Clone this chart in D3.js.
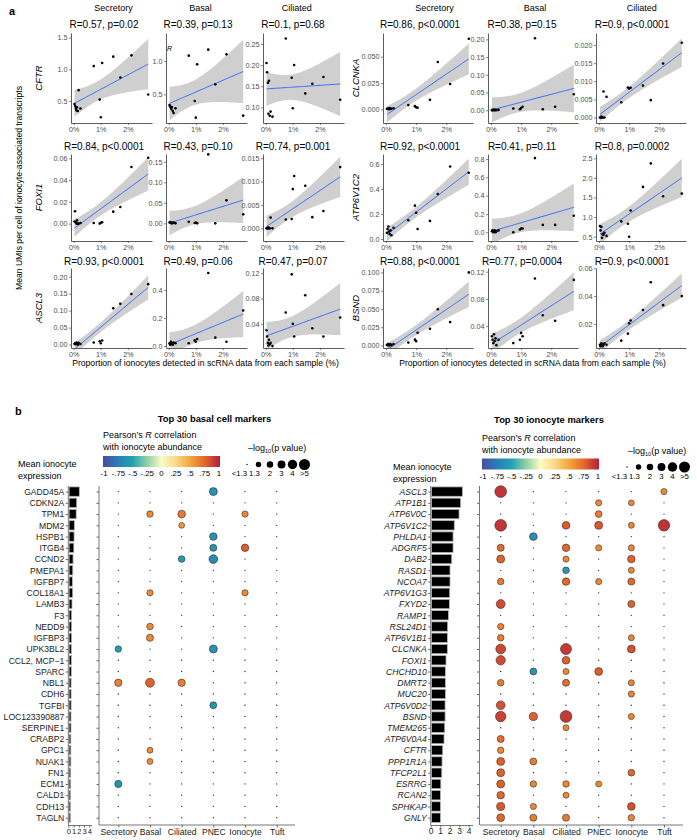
<!DOCTYPE html>
<html>
<head>
<meta charset="utf-8">
<script src="https://cdn.jsdelivr.net/npm/d3@7"></script>
<style>
  body { margin: 0; background: #fff; }
  svg { font-family: "Liberation Sans", Arial, Helvetica, sans-serif; }
</style>
</head>
<body>
<svg id="chart" width="697" height="840"></svg>
<script>
// ---------- panel a data ----------
// proportion of ionocytes per sample (%), same 16 samples in every panel
const samplePct = [0.03, 0.05, 0.08, 0.1, 0.12, 0.15, 0.18, 0.25, 0.74, 0.96, 1.0, 1.05, 1.46, 1.72, 2.13, 2.75];
const cellTypesA = ["Secretory", "Basal", "Ciliated"];
const genesLeft = ["CFTR", "FOXI1", "ASCL3"];
const genesRight = ["CLCNKA", "ATP6V1C2", "BSND"];

// mean UMIs per cell, [secretory, basal, ciliated]
const umiCFTR = [
  [0.45, 0.42, 0.38, 0.35, 0.40, 0.34, 0.67, 0.38, 1.05, 0.52, 0.24, 1.10, 1.20, 0.87, 1.22, 0.60],
  [0.34, 0.32, 0.30, 0.28, 0.31, 0.25, 0.22, 0.29, 1.08, 0.40, 0.15, 0.95, 1.17, 0.65, 1.10, 0.18],
  [0.205, 0.183, 0.158, 0.085, 0.163, 0.080, 0.090, 0.078, 0.263, 0.170, 0.098, 0.200, 0.133, 0.156, 0.172, 0.118]
];
const umiCLCNKA = [
  [0.0005, 0.0003, 0.0008, 0.0, 0.0012, 0.0004, 0.0006, 0.001, 0.004, 0.003, 0.002, 0.0015, 0.009, 0.045, 0.024, 0.067],
  [0.0, 0.001, 0.0, 0.002, 0.0, 0.001, 0.0, 0.001, 0.005, 0.003, 0.006, 0.01, 0.203, 0.003, 0.01, 0.045],
  [0.0, 0.0, 0.0003, 0.0, 0.0, 0.0072, 0.0, 0.0057, 0.0042, 0.0083, 0.0080, 0.0082, 0.0088, 0.0048, 0.0149, 0.0206]
];
const umiFOXI1 = [
  [0.002, 0.0113, 0.001, 0.0, 0.003, 0.0, 0.0, 0.0005, 0.0005, 0.0, 0.0008, 0.0012, 0.011, 0.0153, 0.052, 0.0605],
  [0.002, 0.003, 0.001, 0.002, 0.0, 0.001, 0.002, 0.0, 0.004, 0.001, 0.002, 0.0, 0.168, 0.0, 0.056, 0.022],
  [0.0, 0.0, 0.0002, 0.0, 0.0001, 0.0, 0.0023, 0.0, 0.0019, 0.002, 0.0084, 0.0112, 0.0091, 0.0024, 0.0037, 0.0131]
];
const umiATP6V1C2 = [
  [0.05, 0.08, 0.10, 0.06, 0.04, 0.07, 0.03, 0.09, 0.15, 0.267, 0.21, 0.08, 0.145, 0.36, 0.58, 0.53],
  [0.01, 0.02, 0.0, 0.01, 0.02, 0.0, 0.01, 0.02, 0.0, 0.03, 0.04, 0.04, 0.81, 0.08, 0.08, 0.18],
  [0.77, 0.66, 0.75, 0.47, 0.56, 0.55, 0.60, 0.52, 0.89, 0.83, 0.50, 1.17, 1.77, 2.37, 1.53, 1.60]
];
const umiASCL3 = [
  [0.002, 0.004, 0.001, 0.006, 0.003, 0.0, 0.005, 0.002, 0.006, 0.010, 0.004, 0.012, 0.107, 0.120, 0.149, 0.178],
  [0.02, 0.01, 0.03, 0.015, 0.02, 0.01, 0.025, 0.02, 0.02, 0.04, 0.03, 0.05, 0.52, 0.06, 0.03, 0.253],
  [0.03, 0.02, 0.01, 0.006, 0.015, 0.008, 0.01, 0.005, 0.058, 0.118, 0.04, 0.02, 0.085, 0.033, 0.02, 0.05]
];
const umiBSND = [
  [0.001, 0.0005, 0.002, 0.0, 0.001, 0.0015, 0.0005, 0.002, 0.004, 0.008, 0.006, 0.0175, 0.023, 0.0496, 0.032, 0.1],
  [0.025, 0.02, 0.015, 0.028, 0.018, 0.022, 0.012, 0.02, 0.015, 0.02, 0.03, 0.025, 0.11, 0.056, 0.048, 0.108],
  [0.005, 0.004, 0.006, 0.005, 0.004, 0.005, 0.006, 0.005, 0.008, 0.013, 0.0205, 0.0225, 0.03, 0.05, 0.0335, 0.04]
];

const statsCFTR = ["R=0.57, p=0.02", "R=0.39, p=0.13", "R=0.1, p=0.68"];
const statsCLCNKA = ["R=0.86, p<0.0001", "R=0.38, p=0.15", "R=0.9, p<0.0001"];
const statsFOXI1 = ["R=0.84, p<0.0001", "R=0.43, p=0.10", "R=0.74, p=0.001"];
const statsATP6V1C2 = ["R=0.92, p<0.0001", "R=0.41, p=0.11", "R=0.8, p=0.0002"];
const statsASCL3 = ["R=0.93, p<0.0001", "R=0.49, p=0.06", "R=0.47, p=0.07"];
const statsBSND = ["R=0.88, p<0.0001", "R=0.77, p=0.0004", "R=0.9, p<0.0001"];

const ticksCFTR = [["0.5", "1.0", "1.5"], ["0.5", "1.0"], ["0.10", "0.15", "0.20", "0.25"]];
const ticksCLCNKA = [["0.000", "0.025", "0.050"], ["0.00", "0.05", "0.10", "0.15", "0.20"], ["0.000", "0.005", "0.010", "0.015", "0.020"]];
const ticksFOXI1 = [["0.00", "0.02", "0.04", "0.06"], ["0.00", "0.05", "0.10", "0.15"], ["0.000", "0.005", "0.010", "0.015"]];
const ticksATP6V1C2 = [["0.0", "0.2", "0.4", "0.6"], ["0.0", "0.2", "0.4", "0.6", "0.8"], ["0.5", "1.0", "1.5", "2.0", "2.5"]];
const ticksASCL3 = [["0.00", "0.05", "0.10", "0.15", "0.20"], ["0.0", "0.2", "0.4"], ["0.04", "0.08", "0.12"]];
const ticksBSND = [["0.000", "0.025", "0.050", "0.075", "0.100"], ["0.04", "0.08", "0.12"], ["0.02", "0.04", "0.06"]];

const yDomCFTR = [[0.15, 1.574], [0.07, 1.42], [0.063, 0.276]];
const yDomCLCNKA = [[-0.013, 0.0725], [-0.036, 0.218], [-0.0015, 0.0233]];
const yDomFOXI1 = [[-0.016, 0.064], [-0.043, 0.169], [-0.0027, 0.0159]];
const yDomATP6V1C2 = [[-0.016, 0.68], [-0.096, 0.855], [0.39, 2.61]];
const yDomASCL3 = [[-0.01, 0.2256], [-0.014, 0.556], [0.002, 0.128]];
const yDomBSND = [[-0.0034, 0.106], [0.0078, 0.1255], [0.0027, 0.0602]];

const xTicksPct = [0, 1, 2];
const xDomainPct = [-0.1, 2.89];

// ---------- panel b data ----------
const cellTypesB = ["Secretory", "Basal", "Ciliated", "PNEC", "Ionocyte", "Tuft"];

const basalGenes = ["GADD45A", "CDKN2A", "TPM1", "MDM2", "HSPB1", "ITGB4", "CCND2", "PMEPA1", "IGFBP7", "COL18A1",
  "LAMB3", "F3", "NEDD9", "IGFBP3", "UPK3BL2", "CCL2, MCP\u22121", "SPARC", "NBL1", "CDH6", "TGFBI",
  "LOC123390887", "SERPINE1", "CRABP2", "GPC1", "NUAK1", "FN1", "ECM1", "CALD1", "CDH13", "TAGLN"];
const basalExpr = [1.95, 1.45, 1.35, 1.0, 0.95, 0.9, 0.75, 0.7, 0.62, 0.68, 0.55, 0.48, 0.48, 0.48, 0.42,
  0.42, 0.42, 0.38, 0.38, 0.38, 0.36, 0.36, 0.33, 0.33, 0.33, 0.3, 0.3, 0.28, 0.28, 0.26];
// significant correlations: [gene, cell type, R, -log10 p]
const basalSig = [
  ["GADD45A", "PNEC", -0.6, 3.0],
  ["TPM1", "Basal", 0.6, 2.0], ["TPM1", "Ciliated", 0.66, 2.8], ["TPM1", "Ionocyte", 0.6, 1.9],
  ["MDM2", "Ciliated", 0.55, 1.6],
  ["HSPB1", "PNEC", -0.6, 2.7],
  ["ITGB4", "PNEC", -0.58, 2.4], ["ITGB4", "Ionocyte", 0.78, 2.7],
  ["CCND2", "Ciliated", -0.55, 2.1], ["CCND2", "PNEC", -0.66, 3.5],
  ["COL18A1", "Basal", 0.6, 1.9], ["COL18A1", "Ionocyte", 0.6, 1.9],
  ["NEDD9", "Basal", 0.6, 2.1],
  ["IGFBP3", "Basal", 0.62, 2.4],
  ["UPK3BL2", "Secretory", -0.5, 2.0], ["UPK3BL2", "PNEC", -0.6, 3.0],
  ["NBL1", "Secretory", 0.64, 2.6], ["NBL1", "Basal", 0.76, 3.6], ["NBL1", "Ciliated", 0.64, 2.6],
  ["TGFBI", "PNEC", -0.58, 2.3],
  ["GPC1", "Basal", 0.58, 1.7],
  ["NUAK1", "Basal", 0.58, 1.7],
  ["ECM1", "Secretory", -0.58, 2.5]
];

const ionoGenes = ["ASCL3", "ATP1B1", "ATP6V0C", "ATP6V1C2", "PHLDA1", "ADGRF5", "DAB2", "RASD1", "NCOA7", "ATP6V1G3",
  "FXYD2", "RAMP1", "RSL24D1", "ATP6V1B1", "CLCNKA", "FOXI1", "CHCHD10", "DMRT2", "MUC20", "ATP6V0D2",
  "BSND", "TMEM265", "ATP6V0A4", "CFTR", "PPP1R1A", "TFCP2L1", "ESRRG", "RCAN2", "SPHKAP", "GNLY"];
const ionoExpr = [3.25, 3.07, 2.9, 2.4, 2.27, 2.27, 2.13, 1.95, 1.95, 1.92, 1.88, 1.78, 1.7, 1.67, 1.67,
  1.53, 1.46, 1.46, 1.46, 1.43, 1.43, 1.39, 1.32, 1.18, 1.11, 1.08, 0.98, 0.94, 0.94, 0.94];
const ionoSig = [
  ["ASCL3", "Secretory", 0.92, 5.5], ["ASCL3", "Tuft", 0.6, 1.8],
  ["ATP1B1", "PNEC", 0.6, 1.8], ["ATP1B1", "Ionocyte", 0.6, 1.6],
  ["ATP6V0C", "PNEC", 0.65, 2.2],
  ["ATP6V1C2", "Secretory", 0.92, 5.5], ["ATP6V1C2", "Ciliated", 0.78, 2.8], ["ATP6V1C2", "PNEC", 0.8, 3.0],
  ["ATP6V1C2", "Ionocyte", 0.62, 1.7], ["ATP6V1C2", "Tuft", 0.93, 5.3],
  ["PHLDA1", "Basal", -0.62, 2.8],
  ["ADGRF5", "Secretory", 0.72, 2.4], ["ADGRF5", "Ciliated", 0.74, 2.7], ["ADGRF5", "PNEC", 0.6, 1.8], ["ADGRF5", "Ionocyte", 0.62, 1.8],
  ["DAB2", "Secretory", 0.76, 3.0], ["DAB2", "Ciliated", 0.6, 1.8], ["DAB2", "Ionocyte", 0.76, 2.7],
  ["RASD1", "Ciliated", -0.55, 2.1], ["RASD1", "Ionocyte", 0.6, 1.7],
  ["NCOA7", "Secretory", 0.66, 2.1], ["NCOA7", "Ciliated", 0.74, 2.7], ["NCOA7", "PNEC", 0.6, 1.8], ["NCOA7", "Ionocyte", 0.74, 2.4],
  ["FXYD2", "Secretory", 0.84, 3.6], ["FXYD2", "Ionocyte", 0.76, 2.4],
  ["RSL24D1", "Secretory", 0.64, 1.9],
  ["ATP6V1B1", "Secretory", 0.66, 2.1], ["ATP6V1B1", "Ionocyte", 0.62, 1.7],
  ["CLCNKA", "Secretory", 0.86, 4.2], ["CLCNKA", "Ciliated", 0.9, 5.0], ["CLCNKA", "Ionocyte", 0.82, 2.9],
  ["FOXI1", "Secretory", 0.84, 3.9], ["FOXI1", "Ciliated", 0.76, 2.8],
  ["CHCHD10", "Basal", -0.58, 2.3], ["CHCHD10", "Ciliated", 0.6, 1.7], ["CHCHD10", "PNEC", 0.78, 2.9],
  ["DMRT2", "Secretory", 0.66, 2.1], ["DMRT2", "Ciliated", 0.72, 2.4], ["DMRT2", "Ionocyte", 0.62, 1.8],
  ["MUC20", "Ionocyte", 0.62, 1.8],
  ["ATP6V0D2", "Secretory", 0.82, 3.5],
  ["BSND", "Secretory", 0.88, 4.6], ["BSND", "Basal", 0.77, 3.1], ["BSND", "Ciliated", 0.9, 5.5], ["BSND", "Ionocyte", 0.62, 1.8],
  ["TMEM265", "Ciliated", 0.6, 1.7],
  ["ATP6V0A4", "Secretory", 0.72, 2.4],
  ["CFTR", "Secretory", 0.6, 2.0],
  ["PPP1R1A", "Secretory", 0.76, 3.0], ["PPP1R1A", "Basal", 0.64, 2.3],
  ["TFCP2L1", "Secretory", 0.76, 3.0], ["TFCP2L1", "Ionocyte", 0.74, 2.2],
  ["ESRRG", "Secretory", 0.76, 3.0], ["ESRRG", "Basal", 0.62, 2.0], ["ESRRG", "Ciliated", 0.62, 2.0], ["ESRRG", "PNEC", 0.6, 1.7],
  ["RCAN2", "Secretory", 0.74, 2.7], ["RCAN2", "Ciliated", 0.6, 1.7],
  ["SPHKAP", "Secretory", 0.8, 3.1], ["SPHKAP", "Basal", 0.6, 1.8], ["SPHKAP", "Ionocyte", 0.82, 2.8],
  ["GNLY", "Secretory", 0.74, 2.9], ["GNLY", "Basal", 0.66, 2.4], ["GNLY", "Ciliated", 0.66, 2.4], ["GNLY", "Ionocyte", 0.62, 2.0]
];

const colorStops = [-1, -0.75, -0.5, -0.25, 0, 0.25, 0.5, 0.75, 1];
const colorHex = ["#4a4c9e", "#2c7cb8", "#1fa2b1", "#8ed0a6", "#fbfcc4", "#fad883", "#f3a33a", "#e0652b", "#b11f3e"];
const colorTickLabels = ["-1", "-.75", "-.5", "-.25", "0", ".25", ".5", ".75", "1"];
const sizeLegendValues = [null, 1.3, 2, 3, 4, 5];
const sizeLegendLabels = ["<1.3", "1.3", "2", "3", "4", ">5"];
const barTicks = [0, 1, 2, 3, 4];

// ---------- drawing ----------
const svg = d3.select("#chart");
const axisCol = "#333", tickTextCol = "#4d4d4d";
const t975 = 2.145; // t quantile, 14 df

function fitLine(xs, ys) {
  const n = xs.length, mx = d3.mean(xs), my = d3.mean(ys);
  let sxx = 0, sxy = 0;
  xs.forEach((x, i) => { sxx += (x - mx) ** 2; sxy += (x - mx) * (ys[i] - my); });
  const b = sxy / sxx, a = my - b * mx;
  const s2 = d3.sum(xs, (x, i) => (ys[i] - a - b * x) ** 2) / (n - 2);
  const [x0, x1] = d3.extent(xs);
  return d3.range(0, 81).map(k => {
    const x = x0 + (x1 - x0) * k / 80, yh = a + b * x;
    const se = Math.sqrt(s2 * (1 / n + (x - mx) ** 2 / sxx));
    return { x, y: yh, lo: yh - t975 * se, hi: yh + t975 * se };
  });
}

let clipN = 0;
function scatterPanel(p) {
  const x = d3.scaleLinear().domain(xDomainPct).range([p.left, p.left + p.width]);
  const y = d3.scaleLinear().domain(p.domain).range([p.bottom, p.top]);
  const id = "clip" + (clipN++);
  svg.append("clipPath").attr("id", id).append("rect")
    .attr("x", p.left).attr("y", p.top).attr("width", p.width).attr("height", p.bottom - p.top);
  const g = svg.append("g");
  const curve = fitLine(samplePct, p.ys);
  g.append("path").datum(curve).attr("clip-path", `url(#${id})`)
    .attr("fill", "#cfcfcf")
    .attr("d", d3.area().x(d => x(d.x)).y0(d => y(d.lo)).y1(d => y(d.hi)));
  g.append("path").datum(curve).attr("clip-path", `url(#${id})`)
    .attr("fill", "none").attr("stroke", "#3366ff").attr("stroke-width", 1)
    .attr("d", d3.line().x(d => x(d.x)).y(d => y(d.y)));
  g.selectAll("circle.pt").data(samplePct).join("circle").attr("class", "pt")
    .attr("cx", d => x(d)).attr("cy", (d, i) => y(p.ys[i])).attr("r", 1.3).attr("fill", "#000");

  const ya = d3.axisLeft(y).tickValues(p.ticks.map(Number)).tickFormat((d, i) => p.ticks[i])
    .tickSize(2).tickSizeOuter(0).tickPadding(1.5);
  const yg = g.append("g").attr("transform", `translate(${p.left},0)`).call(ya);
  const xa = d3.axisBottom(x).tickValues(xTicksPct).tickFormat(d => d + "%")
    .tickSize(2).tickSizeOuter(0).tickPadding(1.5);
  const xg = g.append("g").attr("transform", `translate(0,${p.bottom})`).call(xa);
  [yg, xg].forEach(a => {
    a.select(".domain").attr("stroke", axisCol).attr("stroke-width", 0.8);
    a.selectAll(".tick line").attr("stroke", axisCol).attr("stroke-width", 0.6);
    a.selectAll(".tick text").attr("fill", tickTextCol).attr("font-size", 7.2);
  });

  svg.append("text").attr("x", p.titleX).attr("y", 11).attr("text-anchor", "middle")
    .attr("font-size", 9).text(p.cell);
  svg.append("text").attr("x", p.statX).attr("y", p.statY).attr("text-anchor", "middle")
    .attr("font-size", 10).text(p.stat);
}

const rowsA = [[33, 123], [154, 241], [268, 348]];
const statYA = [28, 150, 265];
const leftLayout = { lefts: [71, 166, 263], width: 81, titleX: [113.5, 200.5, 296.7], statX: [104, 198, 293], geneX: 42 };
const rightLayout = { lefts: [383, 488, 596], width: 90, titleX: [434.5, 535, 641.7], statX: [420, 522, 632], geneX: 359 };

const dataByGene = {
  CFTR: { umi: umiCFTR, stats: statsCFTR, ticks: ticksCFTR, dom: yDomCFTR },
  CLCNKA: { umi: umiCLCNKA, stats: statsCLCNKA, ticks: ticksCLCNKA, dom: yDomCLCNKA },
  FOXI1: { umi: umiFOXI1, stats: statsFOXI1, ticks: ticksFOXI1, dom: yDomFOXI1 },
  ATP6V1C2: { umi: umiATP6V1C2, stats: statsATP6V1C2, ticks: ticksATP6V1C2, dom: yDomATP6V1C2 },
  ASCL3: { umi: umiASCL3, stats: statsASCL3, ticks: ticksASCL3, dom: yDomASCL3 },
  BSND: { umi: umiBSND, stats: statsBSND, ticks: ticksBSND, dom: yDomBSND }
};

[[genesLeft, leftLayout], [genesRight, rightLayout]].forEach(([genes, lay]) => {
  genes.forEach((gene, r) => {
    const gd = dataByGene[gene];
    cellTypesA.forEach((cell, c) => {
      scatterPanel({
        left: lay.lefts[c], width: lay.width, top: rowsA[r][0], bottom: rowsA[r][1],
        ys: gd.umi[c], domain: gd.dom[c], ticks: gd.ticks[c],
        cell: r === 0 ? cell : "", titleX: lay.titleX[c],
        stat: gd.stats[c], statX: lay.statX[c], statY: statYA[r]
      });
    });
    const cy = (rowsA[r][0] + rowsA[r][1]) / 2;
    svg.append("text").attr("transform", `translate(${lay.geneX},${cy}) rotate(-90)`)
      .attr("text-anchor", "middle").attr("font-size", 9.5).attr("font-style", "italic").text(gene);
  });
  const xMid = (lay.lefts[0] + lay.lefts[2] + lay.width) / 2 - 2;
  svg.append("text").attr("x", xMid).attr("y", 366).attr("text-anchor", "middle")
    .attr("font-size", 8.6).text("Proportion of ionocytes detected in scRNA data from each sample (%)");
});

// stray label in CFTR basal panel
svg.append("text").attr("x", 167).attr("y", 51).attr("font-size", 7).attr("font-style", "italic").text("R");

svg.append("text").attr("transform", "translate(22,188) rotate(-90)").attr("text-anchor", "middle")
  .attr("font-size", 8.6).text("Mean UMIs per cell of ionocyte-associated transcripts");
svg.append("text").attr("x", 9).attr("y", 15).attr("font-size", 11).attr("font-weight", "bold").text("a");
svg.append("text").attr("x", 15).attr("y", 415).attr("font-size", 11).attr("font-weight", "bold").text("b");

// ---------- panel b ----------
const color = d3.scaleLinear().domain(colorStops).range(colorHex).interpolate(d3.interpolateRgb);
const size = d3.scaleLinear().domain([1.3, 5]).range([2.7, 5.5]);

const defs = svg.append("defs");
const grad = defs.append("linearGradient").attr("id", "rgrad");
colorStops.forEach((s, i) => grad.append("stop").attr("offset", ((s + 1) / 2 * 100) + "%").attr("stop-color", colorHex[i]));

function dotPanel(cfg) {
  const dy = cfg.dy;
  svg.append("text").attr("x", cfg.titleX).attr("y", 422 + dy * 0.3).attr("text-anchor", "middle")
    .attr("font-size", 9.4).attr("font-weight", "bold").text(cfg.title);

  // colour legend
  const lx = cfg.legX;
  svg.append("text").attr("x", lx).attr("y", 438 + dy).attr("font-size", 9)
    .call(t => { t.append("tspan").text("Pearson\u2019s "); t.append("tspan").attr("font-style", "italic").text("R"); t.append("tspan").text(" correlation"); });
  svg.append("text").attr("x", lx).attr("y", 450 + dy).attr("font-size", 9).text("with ionocyte abundance");
  svg.append("rect").attr("x", lx).attr("y", 456 + dy).attr("width", 117).attr("height", 11).attr("fill", "url(#rgrad)");
  const cbar = d3.scaleLinear().domain([-1, 1]).range([lx + 1, lx + 116]);
  colorStops.forEach((s, i) => {
    svg.append("text").attr("x", cbar(s)).attr("y", 476 + dy).attr("text-anchor", "middle")
      .attr("font-size", 7.8).text(colorTickLabels[i]);
  });

  // size legend
  const sx = cfg.sizeX;
  const offs = [0, 11.5, 23, 34.5, 45.5, 57.5];
  const labOff = [-7.5, -4, 0, 0, 0, 0];
  svg.append("text").attr("x", sx + 1).attr("y", 451 + dy).attr("font-size", 9)
    .call(t => { t.append("tspan").text("\u2013log"); t.append("tspan").attr("font-size", 5.5).attr("dy", 2).text("10"); t.append("tspan").attr("dy", -2).text("(p value)"); });
  sizeLegendValues.forEach((v, i) => {
    svg.append("circle").attr("cx", sx + offs[i]).attr("cy", 464.5 + dy)
      .attr("r", v === null ? 0.7 : size(v)).attr("fill", "#000");
    svg.append("text").attr("x", sx + offs[i] + labOff[i]).attr("y", 476 + dy).attr("text-anchor", "middle")
      .attr("font-size", 7.8).text(sizeLegendLabels[i]);
  });

  svg.append("text").attr("x", cfg.meanX).attr("y", 467 + dy).attr("font-size", 9).text("Mean ionocyte");
  svg.append("text").attr("x", cfg.meanX).attr("y", 479 + dy).attr("font-size", 9).text("expression");

  const rowY = d3.scalePoint().domain(cfg.genes).range([491.6, 817.7]);
  const bh = 9.4;
  const bar = d3.scaleLinear().domain([0, 4.4]).range([cfg.barX0, cfg.barX0 + cfg.barUnit * 4.4]);
  const col = d3.scalePoint().domain(cellTypesB).range(cfg.colRange);
  const axisY = 825;

  // bars
  svg.append("g").selectAll("rect").data(cfg.genes).join("rect")
    .attr("x", bar(0) + 0.8).attr("y", d => rowY(d) - bh / 2)
    .attr("width", (d, i) => Math.max(0, bar(cfg.expr[i]) - bar(0)))
    .attr("height", bh).attr("fill", "#000").attr("stroke", "#b5b5b5").attr("stroke-width", 0.8);

  const la = d3.axisLeft(rowY).tickSize(2.5).tickPadding(1.5);
  const lg = svg.append("g").attr("transform", `translate(${bar(0)},0)`).call(la);
  lg.select(".domain").remove();
  lg.selectAll(".tick line").attr("stroke", "#666");
  lg.selectAll(".tick text").attr("fill", "#222").attr("font-size", 8.6)
    .attr("font-style", cfg.italic ? "italic" : "normal");
  svg.append("line").attr("x1", bar(0)).attr("x2", bar(0)).attr("y1", 486).attr("y2", axisY)
    .attr("stroke", "#777").attr("stroke-width", 1);

  const ba = d3.axisBottom(bar).tickValues(barTicks).tickFormat(d3.format("d"))
    .tickSize(2.5).tickSizeOuter(0).tickPadding(1);
  const bg = svg.append("g").attr("transform", `translate(0,${axisY})`).call(ba);
  bg.select(".domain").attr("stroke", "#777");
  bg.selectAll(".tick line").attr("stroke", "#666");
  bg.selectAll(".tick text").attr("fill", "#222").attr("font-size", cfg.barFont);

  // dot grid axes
  const da = d3.axisLeft(rowY).tickSize(2.5).tickFormat("");
  const dg = svg.append("g").attr("transform", `translate(${cfg.dotX},0)`).call(da);
  dg.select(".domain").remove();
  dg.selectAll(".tick line").attr("stroke", "#666");
  svg.append("line").attr("x1", cfg.dotX).attr("x2", cfg.dotX).attr("y1", 486).attr("y2", axisY)
    .attr("stroke", "#777").attr("stroke-width", 1);
  svg.append("line").attr("x1", cfg.dotX).attr("x2", cfg.dotEnd).attr("y1", axisY).attr("y2", axisY)
    .attr("stroke", "#777").attr("stroke-width", 1);
  const ca = d3.axisBottom(col).tickSize(2.5).tickPadding(1.5);
  const cg = svg.append("g").attr("transform", `translate(0,${axisY})`).call(ca);
  cg.select(".domain").remove();
  cg.selectAll(".tick line").attr("stroke", "#666");
  cg.selectAll(".tick text").attr("fill", "#222").attr("font-size", 8.6);

  // dots
  const sigMap = new Map(cfg.sig.map(s => [s[0] + "|" + s[1], s]));
  const cells = [];
  cfg.genes.forEach(g => cellTypesB.forEach(c => cells.push({ g, c, s: sigMap.get(g + "|" + c) })));
  const dots = svg.append("g");
  dots.selectAll("circle.ns").data(cells.filter(d => !d.s)).join("circle").attr("class", "ns")
    .attr("cx", d => col(d.c)).attr("cy", d => rowY(d.g)).attr("r", 0.65).attr("fill", "#222");
  dots.selectAll("circle.sig").data(cells.filter(d => d.s)).join("circle").attr("class", "sig")
    .attr("cx", d => col(d.c)).attr("cy", d => rowY(d.g))
    .attr("r", d => size(d.s[3])).attr("fill", d => color(d.s[2]))
    .attr("stroke", "#3a2a2a").attr("stroke-width", 0.6);
}

dotPanel({
  title: "Top 30 basal cell markers", titleX: 214.5, dy: 0, legX: 103, sizeX: 247, meanX: 18,
  genes: basalGenes, expr: basalExpr, sig: basalSig, italic: false, barFont: 7.6,
  barX0: 68.3, barUnit: 5.25, dotX: 99, colRange: [118.3, 276.7], dotEnd: 295
});
dotPanel({
  title: "Top 30 ionocyte markers", titleX: 549, dy: 2.5, legX: 482, sizeX: 627, meanX: 393,
  genes: ionoGenes, expr: ionoExpr, sig: ionoSig, italic: true, barFont: 8.4,
  barX0: 430.7, barUnit: 9.5, dotX: 479.5, colRange: [500.7, 664], dotEnd: 683
});
</script>
</body>
</html>
